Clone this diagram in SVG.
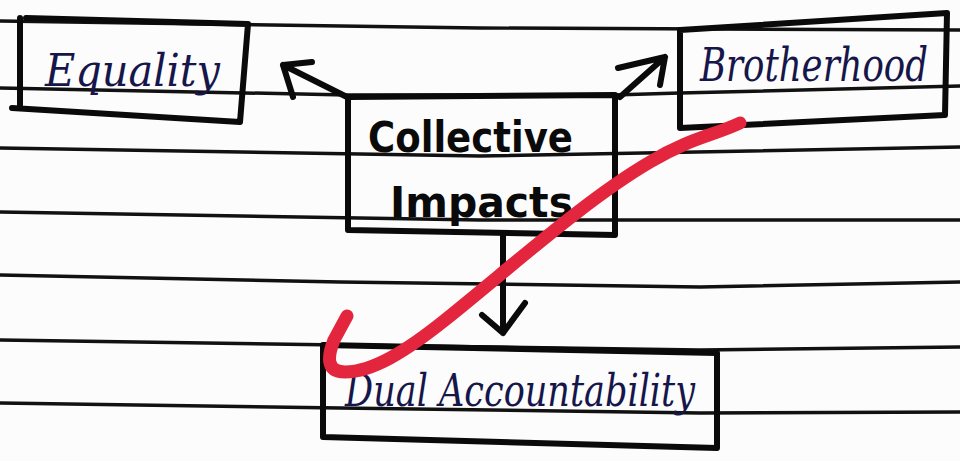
<svg xmlns="http://www.w3.org/2000/svg" width="960" height="461" viewBox="0 0 960 461">
  <defs>
    <style>
      .rule { fill: none; stroke: #111; stroke-width: 3.5; stroke-linecap: round; }
      .box { fill: none; stroke: #0a0a0a; stroke-width: 6; stroke-linejoin: round; stroke-linecap: round; }
      .arrow { fill: none; stroke: #0a0a0a; stroke-width: 6; stroke-linecap: round; stroke-linejoin: round; }
      .ink { font-family: "DejaVu Serif", "Liberation Serif", serif; font-style: italic; fill: #16164a; }
      .marker { font-family: "DejaVu Sans", "Liberation Sans", sans-serif; font-weight: bold; fill: #0a0a0a; }
      .check { fill: none; stroke: #e3263d; stroke-width: 13; stroke-linecap: round; stroke-linejoin: round; }
    </style>
  </defs>
  <rect width="960" height="461" fill="#fcfcfc"/>

  <g id="ruled-lines">
    <polyline class="rule" points="0,21 480,28 960,30"/>
    <polyline class="rule" points="0,88 347,95 613,95 680,93 960,86"/>
    <polyline class="rule" points="0,148 480,156 960,147"/>
    <polyline class="rule" points="0,212 480,220 960,220"/>
    <polyline class="rule" points="0,275 340,282 700,287 960,282"/>
    <polyline class="rule" points="0,340 340,345 700,350 960,347"/>
    <polyline class="rule" points="0,403 340,408 700,413 960,412"/>
  </g>

  <g id="node-equality">
    <path class="box" d="M20,18 L20,105 M26,18 L248,24 L240,122 L12,108"/>
    <text class="ink" x="45" y="86" font-size="44" textLength="175" lengthAdjust="spacingAndGlyphs">Equality</text>
  </g>

  <g id="node-brotherhood">
    <path class="box" d="M680,30 L680,128 L945,115 L947,13 L680,30"/>
    <text class="ink" x="700" y="81" font-size="46" textLength="228" lengthAdjust="spacingAndGlyphs">Brotherhood</text>
  </g>

  <g id="node-collective">
    <path class="box" d="M348,97 L348,230 L615,235 L615,95 L348,97"/>
    <text class="marker" x="368" y="152" font-size="42" textLength="205" lengthAdjust="spacingAndGlyphs">Collective</text>
    <text class="marker" x="390" y="217" font-size="42" textLength="183" lengthAdjust="spacingAndGlyphs">Impacts</text>
  </g>

  <g id="node-dual">
    <path class="box" d="M323,345 L323,437 L717,448 L717,353 L323,345"/>
    <text class="ink" x="345" y="406" font-size="44" textLength="350" lengthAdjust="spacingAndGlyphs">Dual Accountability</text>
  </g>

  <g id="connectors">
    <path class="arrow" d="M347,97 L283,65 M312,62 L283,65 L293,97"/>
    <path class="arrow" d="M620,97 L665,57 M618,68 L665,57 L660,85"/>
    <path class="arrow" d="M503,235 L503,333 M482,315 L503,333 L525,303"/>
  </g>

  <g id="check-mark">
    <path class="check" d="M740,123 C715,135 690,138 650,162 C585,200 510,268 445,320 C405,352 372,372 345,372 C325,372 328,355 334,340 L347,316"/>
  </g>
</svg>
